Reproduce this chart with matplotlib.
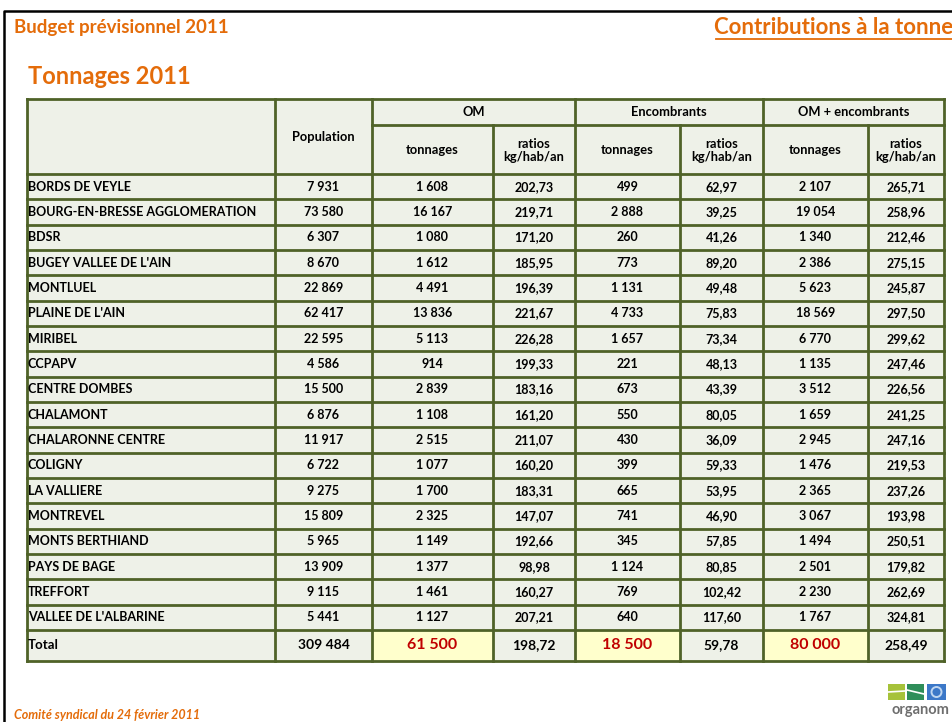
import matplotlib
matplotlib.use("Agg")
import matplotlib.pyplot as plt
from matplotlib.patches import Rectangle, Circle

plt.rcParams["font.family"] = ["Lato", "DejaVu Sans"]

ORANGE = "#E46C0A"
BORDER = "#4F6228"
CELL = "#EEF1E8"
YELLOW = "#FFFFCC"
RED = "#C00000"

names = ["BORDS DE VEYLE", "BOURG-EN-BRESSE AGGLOMERATION", "BDSR", "BUGEY VALLEE DE L'AIN",
         "MONTLUEL", "PLAINE DE L'AIN", "MIRIBEL", "CCPAPV", "CENTRE DOMBES", "CHALAMONT",
         "CHALARONNE CENTRE", "COLIGNY", "LA VALLIERE", "MONTREVEL", "MONTS BERTHIAND",
         "PAYS DE BAGE", "TREFFORT", "VALLEE DE L'ALBARINE"]
population = [7931, 73580, 6307, 8670, 22869, 62417, 22595, 4586, 15500, 6876,
              11917, 6722, 9275, 15809, 5965, 13909, 9115, 5441]
om_tonnes = [1608, 16167, 1080, 1612, 4491, 13836, 5113, 914, 2839, 1108,
             2515, 1077, 1700, 2325, 1149, 1377, 1461, 1127]
om_ratio = [202.73, 219.71, 171.20, 185.95, 196.39, 221.67, 226.28, 199.33, 183.16, 161.20,
            211.07, 160.20, 183.31, 147.07, 192.66, 98.98, 160.27, 207.21]
enc_tonnes = [499, 2888, 260, 773, 1131, 4733, 1657, 221, 673, 550,
              430, 399, 665, 741, 345, 1124, 769, 640]
enc_ratio = [62.97, 39.25, 41.26, 89.20, 49.48, 75.83, 73.34, 48.13, 43.39, 80.05,
             36.09, 59.33, 53.95, 46.90, 57.85, 80.85, 102.42, 117.60]
all_tonnes = [2107, 19054, 1340, 2386, 5623, 18569, 6770, 1135, 3512, 1659,
              2945, 1476, 2365, 3067, 1494, 2501, 2230, 1767]
all_ratio = [265.71, 258.96, 212.46, 275.15, 245.87, 297.50, 299.62, 247.46, 226.56, 241.25,
             247.16, 219.53, 237.26, 193.98, 250.51, 179.82, 262.69, 324.81]
totals = [309484, 61500, 198.72, 18500, 59.78, 80000, 258.49]

groups = ["OM", "Encombrants", "OM + encombrants"]
sub_headers = ["tonnages", "ratios\nkg/hab/an"]


def fmt_int(v):
    return f"{v:,}".replace(",", " ")


def fmt_dec(v):
    return f"{v:.2f}".replace(".", ",")


# layout in pixels
xs = [27, 275, 372, 493, 575, 680, 763, 868, 944]
y_top, y_sub, y_head = 99, 125, 174
row_h = 25.33
n = len(names)
y_total = y_head + n * row_h
y_bot = y_total + 31.5

fig = plt.figure(figsize=(9.53, 7.22), dpi=100)
ax = fig.add_axes([0, 0, 1, 1])
ax.set_xlim(0, 953)
ax.set_ylim(722, 0)
ax.axis("off")

# slide frame
ax.plot([4.5, 4.5, 953], [722, 10.5, 10.5], color="black", lw=1.8, solid_capstyle="butt")

ax.text(14, 27, "Budget prévisionnel 2011", color=ORANGE, fontsize=13.5, fontweight="bold",
        va="center", ha="left")
ax.text(953, 27, "Contributions à la tonne", color=ORANGE, fontsize=16,
        fontweight="bold", va="center", ha="right")
ax.plot([716, 953], [38.5, 38.5], color=ORANGE, lw=1.3)
ax.text(28, 76, "Tonnages 2011", color=ORANGE, fontsize=17, fontweight="bold",
        va="center", ha="left")

# cell backgrounds
ax.add_patch(Rectangle((xs[0], y_top), xs[-1] - xs[0], y_bot - y_top, color=CELL, lw=0, zorder=0))
for ci in (2, 4, 6):
    ax.add_patch(Rectangle((xs[ci], y_total), xs[ci + 1] - xs[ci], y_bot - y_total,
                           color=YELLOW, lw=0, zorder=0.5))

# grid lines
lw = 2.0
for y in [y_top, y_head] + [y_head + i * row_h for i in range(1, n + 1)] + [y_bot]:
    ax.plot([xs[0], xs[-1]], [y, y], color=BORDER, lw=lw, zorder=2, solid_capstyle="projecting")
ax.plot([xs[2], xs[-1]], [y_sub, y_sub], color=BORDER, lw=lw, zorder=2)
for i, x in enumerate(xs):
    top = y_sub if i in (3, 5, 7) else y_top
    ax.plot([x, x], [top, y_bot], color=BORDER, lw=lw, zorder=2, solid_capstyle="projecting")

# header text
hfs = 9.3
ax.text((xs[1] + xs[2]) / 2, 137, "Population", fontsize=hfs, fontweight="bold",
        ha="center", va="center")
for gi, g in enumerate(groups):
    x0, x1 = xs[2 + 2 * gi], xs[4 + 2 * gi]
    ax.text((x0 + x1) / 2, (y_top + y_sub) / 2, g, fontsize=hfs, fontweight="bold",
            ha="center", va="center")
    for si, s in enumerate(sub_headers):
        a, b = xs[2 + 2 * gi + si], xs[3 + 2 * gi + si]
        ax.text((a + b) / 2, (y_sub + y_head) / 2 + 1, s, fontsize=hfs, fontweight="bold",
                ha="center", va="center", linespacing=1.05)

# data rows
dfs = 9
cols = [population, om_tonnes, om_ratio, enc_tonnes, enc_ratio, all_tonnes, all_ratio]
for r in range(n):
    yc = y_head + (r + 0.5) * row_h
    ax.text(xs[0] + 1, yc, names[r], fontsize=dfs, fontweight="bold", ha="left", va="center")
    for c, col in enumerate(cols):
        v = col[r]
        s = fmt_dec(v) if isinstance(v, float) else fmt_int(v)
        ax.text((xs[c + 1] + xs[c + 2]) / 2, yc, s, fontsize=dfs, fontweight="bold",
                ha="center", va="center")

# total row
yc = (y_total + y_bot) / 2 - 1
ax.text(xs[0] + 1, yc, "Total", fontsize=9.5, fontweight="bold", ha="left", va="center")
for c, v in enumerate(totals):
    s = fmt_dec(v) if isinstance(v, float) else fmt_int(v)
    big = c in (1, 3, 5)
    ax.text((xs[c + 1] + xs[c + 2]) / 2, yc, s, fontsize=11.5 if big else 10,
            fontweight="bold", color=RED if big else "black", ha="center", va="center")

# footer
ax.text(14, 715, "Comité syndical du 24 février 2011", color=ORANGE, fontsize=9,
        fontweight="bold", style="italic", ha="left", va="center")

# logo
ax.add_patch(Rectangle((888, 684), 17, 16, color="#A6C23A", lw=0))
ax.add_patch(Rectangle((907, 684), 17, 16, color="#2F8E5A", lw=0))
ax.add_patch(Rectangle((927, 684), 19, 16, color="#3C78C8", lw=0))
ax.add_patch(Circle((936.5, 692), 5, facecolor="none", edgecolor="#BFD6F0", lw=1.4))
ax.plot([888, 905], [692, 691], color="white", lw=1.2)
ax.plot([907, 924], [690, 694], color="white", lw=1.2)
ax.text(920, 710, "organom", color="#6E6E6E", fontsize=10.5, fontweight="bold",
        ha="center", va="center")

fig.savefig("out.png", dpi=100)
